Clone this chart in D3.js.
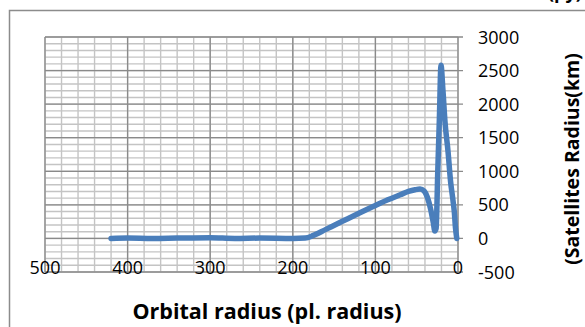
<!DOCTYPE html>
<html>
<head>
<meta charset="utf-8">
<script src="https://cdn.jsdelivr.net/npm/d3@7"></script>
<style>
	body { margin: 0; background: #fff; }
	text { font-family: "Open Sans", sans-serif; fill: #000; }
</style>
</head>
<body>
<svg id="chart" width="585" height="327"></svg>
<script>
// --------- Data --------- //
// orbital radius (planet radii)
var orbitalRadius = [420, 400, 370, 340, 300, 270, 240, 200, 185, 175, 160, 140, 120, 100, 85, 70, 60, 52, 46, 41, 37, 33, 30, 28, 26.5, 24.5, 22.5, 20.6, 18.2, 15.7, 12.1, 9, 6, 4.5, 3, 1.5];
// satellites radius (km)
var satRadius = [0, 5, 0, 5, 10, 0, 5, 0, 5, 45, 135, 255, 375, 490, 575, 650, 700, 725, 735, 705, 610, 430, 240, 110, 150, 1000, 1800, 2580, 2200, 1730, 1300, 850, 560, 400, 150, 0];

var xTicks = [500, 400, 300, 200, 100, 0];
var yTicks = [-500, 0, 500, 1000, 1500, 2000, 2500, 3000];
var xTitle = "Orbital radius (pl. radius)";
var yTitle = "(Satellites Radius(km)";
// --------- /Data --------- //

var svg = d3.select("#chart");

var plotL = 45, plotR = 458, plotT = 37, plotB = 272;

var x = d3.scaleLinear().domain([500, 0]).range([plotL, plotR]);
var y = d3.scaleLinear().domain([-500, 3000]).range([plotB, plotT]);

// chart border (right and bottom edges are cut off in the picture)
svg.append("rect")
	.attr("x", 9.5).attr("y", 10.5)
	.attr("width", 600).attr("height", 340)
	.attr("fill", "none")
	.attr("stroke", "#8c8c8c")
	.attr("stroke-width", 1.5);

// cut-off title above the chart, only descenders show
svg.append("text")
	.attr("x", 548).attr("y", -1)
	.style("font-size", "18px").style("font-weight", "bold")
	.text("(py)");

var grid = svg.append("g");

// minor grid
grid.selectAll("line.vmin")
	.data(d3.range(0, 501, 20))
	.enter().append("line")
	.attr("x1", function(d){ return x(d); }).attr("x2", function(d){ return x(d); })
	.attr("y1", plotT).attr("y2", plotB)
	.attr("stroke", "#c4c4c4").attr("stroke-width", 1.4);

grid.selectAll("line.hmin")
	.data(d3.range(-500, 3001, 100))
	.enter().append("line")
	.attr("x1", plotL).attr("x2", plotR)
	.attr("y1", function(d){ return y(d); }).attr("y2", function(d){ return y(d); })
	.attr("stroke", "#c4c4c4").attr("stroke-width", 1.4);

// major grid
grid.selectAll("line.vmaj")
	.data(xTicks)
	.enter().append("line")
	.attr("x1", function(d){ return x(d); }).attr("x2", function(d){ return x(d); })
	.attr("y1", plotT).attr("y2", plotB)
	.attr("stroke", "#8a8a8a").attr("stroke-width", 1.3);

grid.selectAll("line.hmaj")
	.data(yTicks)
	.enter().append("line")
	.attr("x1", plotL).attr("x2", plotR + 5)
	.attr("y1", function(d){ return y(d); }).attr("y2", function(d){ return y(d); })
	.attr("stroke", "#8a8a8a").attr("stroke-width", 1.3);

// x tick labels
svg.selectAll("text.xl")
	.data(xTicks)
	.enter().append("text")
	.attr("x", function(d){ return x(d); })
	.attr("y", plotB + 2)
	.attr("text-anchor", "middle")
	.style("font-size", "18px")
	.text(function(d){ return d; });

// y tick labels
svg.selectAll("text.yl")
	.data(yTicks)
	.enter().append("text")
	.attr("x", 478)
	.attr("y", function(d){ return y(d) + 6.5; })
	.style("font-size", "18px")
	.text(function(d){ return d; });

// data line
var line = d3.line()
	.x(function(d){ return x(d[0]); })
	.y(function(d){ return y(d[1]); })
	.curve(d3.curveMonotoneX);

svg.append("path")
	.datum(d3.zip(orbitalRadius, satRadius))
	.attr("d", line)
	.attr("fill", "none")
	.attr("stroke", "#4a7ebb")
	.attr("stroke-width", 5.5)
	.attr("stroke-linecap", "round")
	.attr("stroke-linejoin", "round");

// axis titles
svg.append("text")
	.attr("x", 267).attr("y", 319)
	.attr("text-anchor", "middle")
	.style("font-size", "21.5px").style("font-weight", "bold")
	.text(xTitle);

svg.append("text")
	.attr("transform", "translate(579,159) rotate(-90)")
	.attr("text-anchor", "middle")
	.style("font-size", "19.5px").style("font-weight", "bold")
	.text(yTitle);
</script>
</body>
</html>
